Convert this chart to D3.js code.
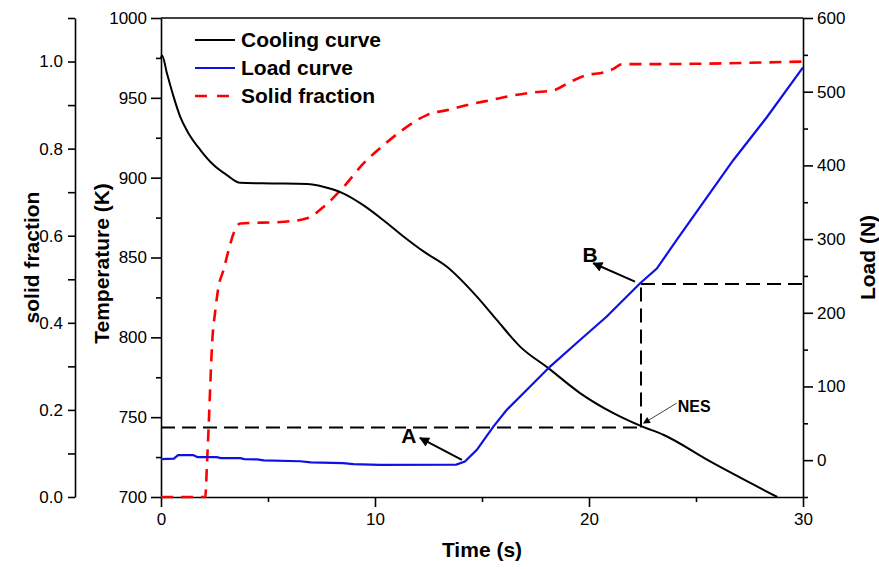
<html>
<head>
<meta charset="utf-8">
<script src="https://cdn.jsdelivr.net/npm/d3@7"></script>
<style>
  body { margin: 0; background: #fff; }
  .chart text { font-family: "Liberation Sans", Arial, sans-serif; fill: #000; }
  .axis path, .axis line { stroke: #000; stroke-width: 1.6px; }
  .axis text { font-size: 17px; }
  .title { font-size: 21px; font-weight: bold; }
</style>
</head>
<body>
<svg class="chart"></svg>
<script>
// cooling curve (Temperature, K)
var coolTime = [0, 0.05, 0.28, 0.59, 0.9, 1.29, 1.84, 2.46, 3.08, 3.7, 5.2, 6.82, 7.58, 8.51, 9.45, 10.38, 11.3, 12.3, 13.36, 14.76, 15.69, 16.78, 18.1, 19.58, 21.14, 22.47, 23.47, 25.66, 28.8];
var coolTemp = [975, 976.5, 965.2, 950.6, 938.1, 927.7, 917.3, 907.9, 901.6, 896.8, 896.4, 896.0, 894.3, 890.2, 882.8, 873.5, 863.5, 853.5, 844.2, 825.5, 810.9, 794.2, 780.7, 765.1, 752.5, 744.2, 739.0, 722.3, 700];

// load curve (N)
var loadTime = [0, 0.6, 0.8, 1.5, 1.7, 2.6, 2.8, 3.7, 3.9, 4.5, 4.8, 6.5, 7.0, 8.5, 9.0, 10.2, 13.8, 14.2, 14.76, 15.53, 16.16, 17.25, 18.18, 19.58, 20.83, 22.39, 23.17, 24.1, 26.74, 28.3, 30];
var loadVals = [1.5, 2, 6.9, 6.9, 4.2, 4.2, 2.8, 2.8, 1.5, 1.0, -0.4, -1.5, -3, -4, -5.5, -6.3, -6, -2, 14, 45.6, 68.3, 100, 127, 163, 195, 240, 260, 299, 407, 465, 533];

// solid fraction
var fracTime = [0, 2.07, 2.15, 2.22, 2.3, 2.38, 2.54, 2.69, 2.92, 3.16, 3.39, 3.7, 5.73, 6.82, 7.59, 8.53, 9.46, 10.4, 11.18, 12.42, 13.51, 14.45, 15.38, 16.32, 17.4, 18.34, 19.12, 19.9, 20.67, 21.14, 21.53, 22.07, 25.19, 28.3, 30];
var fracVals = [0, 0, 0.077, 0.154, 0.253, 0.345, 0.429, 0.483, 0.521, 0.567, 0.605, 0.628, 0.632, 0.64, 0.666, 0.712, 0.766, 0.808, 0.839, 0.877, 0.89, 0.902, 0.911, 0.921, 0.929, 0.934, 0.953, 0.969, 0.975, 0.983, 0.994, 0.994, 0.995, 0.998, 1.0];

// tick values
var timeTicks = [0, 10, 20, 30];
var timeMinor = [5, 15, 25];
var tempTicks = [700, 750, 800, 850, 900, 950, 1000];
var tempMinor = [725, 775, 825, 875, 925, 975];
var loadTicks = [0, 100, 200, 300, 400, 500, 600];
var loadMinor = [-50, 50, 150, 250, 350, 450, 550];
var fracTicks = [0, 0.2, 0.4, 0.6, 0.8, 1.0];
var fracMinor = [0.1, 0.3, 0.5, 0.7, 0.9, 1.1];

// NES marker (time s, temperature K, load N)
var nesTime = 22.43, nesTemp = 743.5, nesLoad = 239;
var legendNames = ["Cooling curve", "Load curve", "Solid fraction"];

var width = 879, height = 569;
var plotL = 161, plotR = 803, plotT = 18, plotB = 497;
var fracAxisX = 75;

var chart = d3.select(".chart").attr("width", width).attr("height", height);

var x = d3.scaleLinear().domain([0, 30]).range([plotL, plotR]);
var yT = d3.scaleLinear().domain([700, 1000]).range([plotB, plotT]);
var yL = d3.scaleLinear().domain([-50, 600]).range([plotB, plotT]);
var yF = d3.scaleLinear().domain([0, 1.1]).range([plotB, plotT]);

var defs = chart.append("defs");
defs.append("marker").attr("id", "head")
  .attr("viewBox", "0 0 10 10").attr("refX", 9).attr("refY", 5)
  .attr("markerWidth", 13).attr("markerHeight", 10).attr("markerUnits", "userSpaceOnUse")
  .attr("orient", "auto")
  .append("path").attr("d", "M0,0 L10,5 L0,10 z").attr("fill", "#000");
defs.append("marker").attr("id", "headSmall")
  .attr("viewBox", "0 0 10 10").attr("refX", 9).attr("refY", 5)
  .attr("markerWidth", 10).attr("markerHeight", 7).attr("markerUnits", "userSpaceOnUse")
  .attr("orient", "auto")
  .append("path").attr("d", "M0,0 L10,5 L0,10 z").attr("fill", "#000");

// axes
function addAxis(axis, minor, tx, ty) {
  chart.append("g").attr("class", "axis")
    .attr("transform", "translate(" + tx + "," + ty + ")")
    .call(axis);
  chart.append("g").attr("class", "axis")
    .attr("transform", "translate(" + tx + "," + ty + ")")
    .call(minor)
    .select(".domain").remove();
}

addAxis(d3.axisBottom(x).tickValues(timeTicks).tickSize(10).tickSizeOuter(0).tickPadding(6),
  d3.axisBottom(x).tickValues(timeMinor).tickSize(5).tickFormat(""), 0, plotB);
addAxis(d3.axisLeft(yT).tickValues(tempTicks).tickSize(10).tickSizeOuter(0).tickPadding(4).tickFormat(d3.format("d")),
  d3.axisLeft(yT).tickValues(tempMinor).tickSize(5).tickFormat(""), plotL, 0);
addAxis(d3.axisRight(yL).tickValues(loadTicks).tickSize(10).tickSizeOuter(0).tickPadding(4).tickFormat(d3.format("d")),
  d3.axisRight(yL).tickValues(loadMinor).tickSize(5).tickFormat(""), plotR, 0);
addAxis(d3.axisLeft(yF).tickValues(fracTicks).tickSize(7).tickSizeOuter(0).tickPadding(5).tickFormat(d3.format(".1f")),
  d3.axisLeft(yF).tickValues(fracMinor).tickSize(7).tickFormat(""), fracAxisX, 0);

// top frame
chart.append("line")
  .attr("x1", x(0)).attr("x2", x(30)).attr("y1", yT(1000)).attr("y2", yT(1000))
  .attr("stroke", "#000").attr("stroke-width", 1.6);

// dashed guide lines
var guides = [
  [[x(0), yT(nesTemp)], [x(nesTime), yT(nesTemp)]],
  [[x(nesTime), yT(nesTemp)], [x(nesTime), yL(nesLoad)]],
  [[x(nesTime), yL(nesLoad)], [x(30), yL(nesLoad)]]
];
guides.forEach(function(g) {
  chart.append("line")
    .attr("x1", g[0][0]).attr("y1", g[0][1]).attr("x2", g[1][0]).attr("y2", g[1][1])
    .attr("stroke", "#000").attr("stroke-width", 2).attr("stroke-dasharray", "14,7");
});

// curves
var fracLine = d3.line().curve(d3.curveMonotoneX)
  .x(function(d, i) { return x(fracTime[i]); })
  .y(function(d) { return yF(d); });
chart.append("path").datum(fracVals)
  .attr("d", fracLine).attr("fill", "none")
  .attr("stroke", "#ff0000").attr("stroke-width", 2.6).attr("stroke-dasharray", "12,8");

var coolLine = d3.line().curve(d3.curveMonotoneX)
  .x(function(d, i) { return x(coolTime[i]); })
  .y(function(d) { return yT(d); });
chart.append("path").datum(coolTemp)
  .attr("d", coolLine).attr("fill", "none")
  .attr("stroke", "#000").attr("stroke-width", 2);

var loadLine = d3.line()
  .x(function(d, i) { return x(loadTime[i]); })
  .y(function(d) { return yL(d); });
chart.append("path").datum(loadVals)
  .attr("d", loadLine).attr("fill", "none")
  .attr("stroke", "#1010e6").attr("stroke-width", 2.2);

// annotations
chart.append("line")
  .attr("x1", x(14.06)).attr("y1", yT(723.3)).attr("x2", x(12.1)).attr("y2", yT(737))
  .attr("stroke", "#000").attr("stroke-width", 2).attr("marker-end", "url(#head)");
chart.append("text").attr("class", "title").attr("text-anchor", "middle")
  .attr("x", x(11.58)).attr("y", yT(737.9) + 7).text("A");

chart.append("line")
  .attr("x1", x(22.15)).attr("y1", yT(834.9)).attr("x2", x(20.2)).attr("y2", yT(846.4))
  .attr("stroke", "#000").attr("stroke-width", 2).attr("marker-end", "url(#head)");
chart.append("text").attr("class", "title").attr("text-anchor", "middle")
  .attr("x", x(20.05)).attr("y", yT(851.6) + 7).text("B");

chart.append("line")
  .attr("x1", x(24.1)).attr("y1", yT(758.8)).attr("x2", x(22.55)).attr("y2", yT(746.2))
  .attr("stroke", "#444").attr("stroke-width", 1).attr("marker-end", "url(#headSmall)");
chart.append("text").attr("font-size", "16px").attr("font-weight", "bold")
  .attr("x", x(24.15)).attr("y", yT(753)).text("NES");

// legend
var legendColors = ["#000", "#1010e6", "#ff0000"];
var legendDash = [null, null, "12,10"];
var legend = chart.append("g").attr("transform", "translate(195,40)");
legendNames.forEach(function(name, i) {
  legend.append("line")
    .attr("x1", 0).attr("x2", 40).attr("y1", i * 28).attr("y2", i * 28)
    .attr("stroke", legendColors[i]).attr("stroke-width", i == 2 ? 2.6 : 2)
    .attr("stroke-dasharray", legendDash[i]);
  legend.append("text").attr("class", "title")
    .attr("x", 46).attr("y", i * 28 + 7).text(name);
});

// axis titles
chart.append("text").attr("class", "title").attr("text-anchor", "middle")
  .attr("x", (plotL + plotR) / 2).attr("y", 557).text("Time (s)");
chart.append("text").attr("class", "title").attr("text-anchor", "middle")
  .attr("transform", "translate(109," + ((plotT + plotB) / 2 + 6) + ") rotate(-90)")
  .text("Temperature (K)");
chart.append("text").attr("class", "title").attr("text-anchor", "middle")
  .attr("transform", "translate(39," + ((plotT + plotB) / 2) + ") rotate(-90)")
  .text("solid fraction");
chart.append("text").attr("class", "title").attr("text-anchor", "middle")
  .attr("transform", "translate(875," + ((plotT + plotB) / 2) + ") rotate(-90)")
  .text("Load (N)");
</script>
</body>
</html>
